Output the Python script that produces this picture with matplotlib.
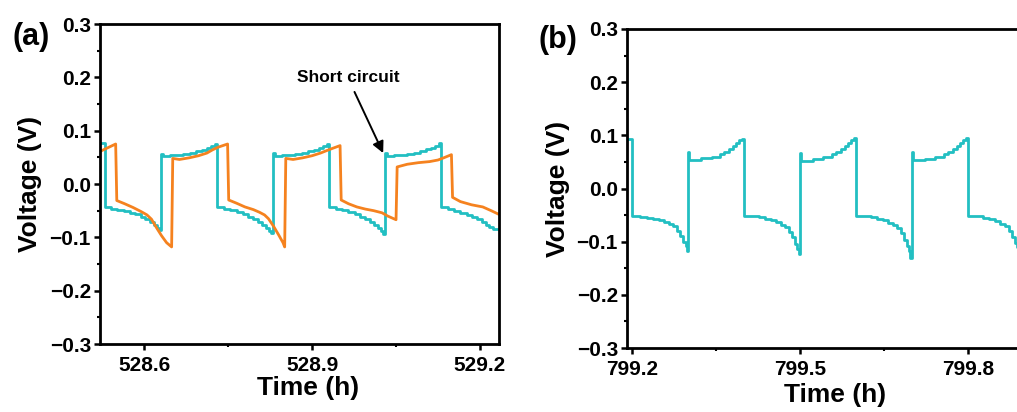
import matplotlib
matplotlib.use("Agg")
import matplotlib.pyplot as plt
from matplotlib.ticker import MultipleLocator, AutoMinorLocator

plt.rcParams['font.family'] = ['Liberation Sans', 'DejaVu Sans']
plt.rcParams['font.weight'] = 'bold'

cyan = '#22BFC2'
orange = '#F5821F'

# (a) cell before short circuit (cyan, stepped) and reference cell (orange)
time_a_cyan = [528.521,
               528.530, 528.541, 528.552, 528.563, 528.574, 528.584, 528.594, 528.602, 528.610, 528.617, 528.623, 528.627,
               528.630, 528.633, 528.646, 528.658, 528.670, 528.682, 528.693, 528.703, 528.712, 528.720, 528.726,
               528.730, 528.743, 528.754, 528.765, 528.776, 528.786, 528.795, 528.803, 528.810, 528.817, 528.823, 528.827,
               528.830, 528.833, 528.846, 528.858, 528.870, 528.882, 528.893, 528.903, 528.912, 528.920, 528.926,
               528.930, 528.943, 528.954, 528.965, 528.976, 528.986, 528.995, 529.003, 529.010, 529.017, 529.023, 529.027,
               529.030, 529.033, 529.046, 529.058, 529.070, 529.082, 529.093, 529.103, 529.112, 529.120, 529.126,
               529.130, 529.143, 529.154, 529.165, 529.176, 529.186, 529.195, 529.203, 529.210, 529.217, 529.223, 529.240]
volt_a_cyan = [0.077,
               -0.044, -0.046, -0.048, -0.051, -0.054, -0.057, -0.061, -0.066, -0.071, -0.077, -0.082, -0.086,
               0.057, 0.053, 0.054, 0.055, 0.057, 0.059, 0.061, 0.064, 0.067, 0.071, 0.075,
               -0.043, -0.046, -0.049, -0.053, -0.057, -0.061, -0.066, -0.071, -0.077, -0.083, -0.088, -0.092,
               0.058, 0.053, 0.054, 0.055, 0.057, 0.059, 0.061, 0.064, 0.067, 0.071, 0.075,
               -0.043, -0.046, -0.049, -0.053, -0.057, -0.061, -0.066, -0.071, -0.077, -0.083, -0.088, -0.093,
               0.059, 0.052, 0.054, 0.055, 0.057, 0.059, 0.062, 0.065, 0.068, 0.072, 0.076,
               -0.044, -0.047, -0.050, -0.054, -0.058, -0.062, -0.066, -0.071, -0.076, -0.081, -0.085, -0.085]

time_a_orange = [528.521, 528.549,
                 528.551, 528.565, 528.580, 528.595, 528.605, 528.613, 528.622, 528.631, 528.640, 528.649,
                 528.651, 528.663, 528.680, 528.697, 528.712, 528.722, 528.732, 528.749,
                 528.751, 528.765, 528.780, 528.795, 528.806, 528.815, 528.822, 528.831, 528.840, 528.848, 528.851,
                 528.853, 528.866, 528.883, 528.900, 528.915, 528.927, 528.937, 528.950,
                 528.952, 528.965, 528.980, 528.995, 529.010, 529.025, 529.035, 529.050,
                 529.052, 529.070, 529.090, 529.110, 529.125, 529.135, 529.149,
                 529.151, 529.165, 529.185, 529.205, 529.220, 529.240]
volt_a_orange = [0.061, 0.075,
                 -0.031, -0.037, -0.044, -0.052, -0.058, -0.066, -0.082, -0.097, -0.110, -0.118,
                 0.048, 0.046, 0.049, 0.053, 0.058, 0.064, 0.069, 0.075,
                 -0.030, -0.036, -0.043, -0.048, -0.053, -0.058, -0.065, -0.079, -0.095, -0.110, -0.118,
                 0.048, 0.046, 0.049, 0.053, 0.058, 0.063, 0.067, 0.072,
                 -0.030, -0.037, -0.043, -0.047, -0.050, -0.054, -0.060, -0.067,
                 0.032, 0.037, 0.040, 0.042, 0.045, 0.049, 0.055,
                 -0.025, -0.033, -0.039, -0.043, -0.050, -0.060]

# (b) later cycling, stepped trace
time_b = [799.190,
          799.200, 799.215, 799.227, 799.237, 799.248, 799.258, 799.266, 799.273, 799.280, 799.286, 799.291, 799.296, 799.299,
          799.300, 799.302, 799.324, 799.342, 799.357, 799.365, 799.374, 799.380, 799.386, 799.392, 799.397,
          799.400, 799.415, 799.427, 799.437, 799.448, 799.458, 799.466, 799.473, 799.480, 799.486, 799.491, 799.495, 799.498,
          799.500, 799.502, 799.524, 799.542, 799.557, 799.565, 799.574, 799.580, 799.586, 799.592, 799.597,
          799.600, 799.615, 799.627, 799.637, 799.648, 799.658, 799.666, 799.673, 799.680, 799.686, 799.691, 799.695, 799.697,
          799.700, 799.702, 799.724, 799.742, 799.757, 799.765, 799.774, 799.780, 799.786, 799.792, 799.797,
          799.800, 799.815, 799.827, 799.837, 799.848, 799.858, 799.866, 799.873, 799.879, 799.884, 799.888, 799.893, 799.920]
volt_b = [0.094,
          -0.052, -0.053, -0.055, -0.057, -0.060, -0.063, -0.067, -0.071, -0.079, -0.090, -0.100, -0.108, -0.118,
          0.068, 0.054, 0.057, 0.060, 0.064, 0.069, 0.074, 0.080, 0.086, 0.091, 0.094,
          -0.051, -0.052, -0.054, -0.057, -0.060, -0.063, -0.068, -0.073, -0.081, -0.092, -0.104, -0.113, -0.124,
          0.066, 0.052, 0.056, 0.060, 0.064, 0.069, 0.074, 0.080, 0.086, 0.091, 0.095,
          -0.051, -0.052, -0.054, -0.057, -0.060, -0.064, -0.069, -0.075, -0.084, -0.096, -0.108, -0.118, -0.131,
          0.069, 0.053, 0.056, 0.060, 0.064, 0.069, 0.074, 0.080, 0.086, 0.091, 0.095,
          -0.051, -0.052, -0.055, -0.058, -0.062, -0.066, -0.071, -0.080, -0.091, -0.103, -0.110, -0.125, -0.130]

xticks_a = [528.6, 528.9, 529.2]
xticks_b = [799.2, 799.5, 799.8]


def style_axes(ax, xticks, xlim):
    ax.set_xlim(*xlim)
    ax.set_ylim(-0.3, 0.3)
    ax.set_xticks(xticks)
    ax.xaxis.set_minor_locator(AutoMinorLocator(2))
    ax.yaxis.set_major_locator(MultipleLocator(0.1))
    ax.yaxis.set_minor_locator(MultipleLocator(0.05))
    ax.yaxis.set_major_formatter(plt.FuncFormatter(lambda v, p: ('%.1f' % v).replace('-', '\u2212') if abs(v) > 1e-9 else '0.0'))
    for s in ax.spines.values():
        s.set_linewidth(2.0)
    ax.tick_params(which='major', direction='out', length=4.5, width=1.8, labelsize=15)
    ax.tick_params(which='minor', direction='out', length=2.5, width=1.5)
    ax.tick_params(axis='y', pad=2)
    ax.tick_params(axis='x', pad=4)
    for lab in ax.get_xticklabels() + ax.get_yticklabels():
        lab.set_fontweight('bold')


fig = plt.figure(figsize=(10.17, 4.12), dpi=100)

ax1 = fig.add_axes([100 / 1017, 1 - 344 / 412, 399 / 1017, 320 / 412])
ax1.plot(time_a_cyan, volt_a_cyan, color=cyan, lw=2.0, drawstyle='steps-post')
ax1.plot(time_a_orange, volt_a_orange, color=orange, lw=2.0)
style_axes(ax1, xticks_a, (528.521, 529.234))
ax1.set_xlabel('Time (h)', fontsize=19, fontweight='bold')
ax1.set_ylabel('Voltage (V)', fontsize=19, fontweight='bold')
ax1.xaxis.set_label_coords(0.521, -0.10)
ax1.yaxis.set_label_coords(-0.145, 0.5)
ax1.annotate('Short circuit', xy=(529.027, 0.058), xytext=(528.964, 0.199),
             ha='center', va='center', fontsize=12.5, fontweight='bold',
             arrowprops=dict(arrowstyle='-|>', color='black', lw=1.4, mutation_scale=17, shrinkA=3, shrinkB=0))

ax2 = fig.add_axes([627 / 1017, 1 - 348 / 412, 399 / 1017, 319 / 412])
ax2.plot(time_b, volt_b, color=cyan, lw=2.0, drawstyle='steps-post')
style_axes(ax2, xticks_b, (799.191, 799.904))
ax2.set_xlabel('Time (h)', fontsize=19, fontweight='bold')
ax2.set_ylabel('Voltage (V)', fontsize=19, fontweight='bold')
ax2.xaxis.set_label_coords(0.521, -0.11)
ax2.yaxis.set_label_coords(-0.143, 0.5)

fig.text(12 / 1017, 1 - 37 / 412, '(a)', fontsize=22, fontweight='bold', va='center', ha='left')
fig.text(538 / 1017, 1 - 40 / 412, '(b)', fontsize=22, fontweight='bold', va='center', ha='left')

fig.savefig('out.png', dpi=100)
